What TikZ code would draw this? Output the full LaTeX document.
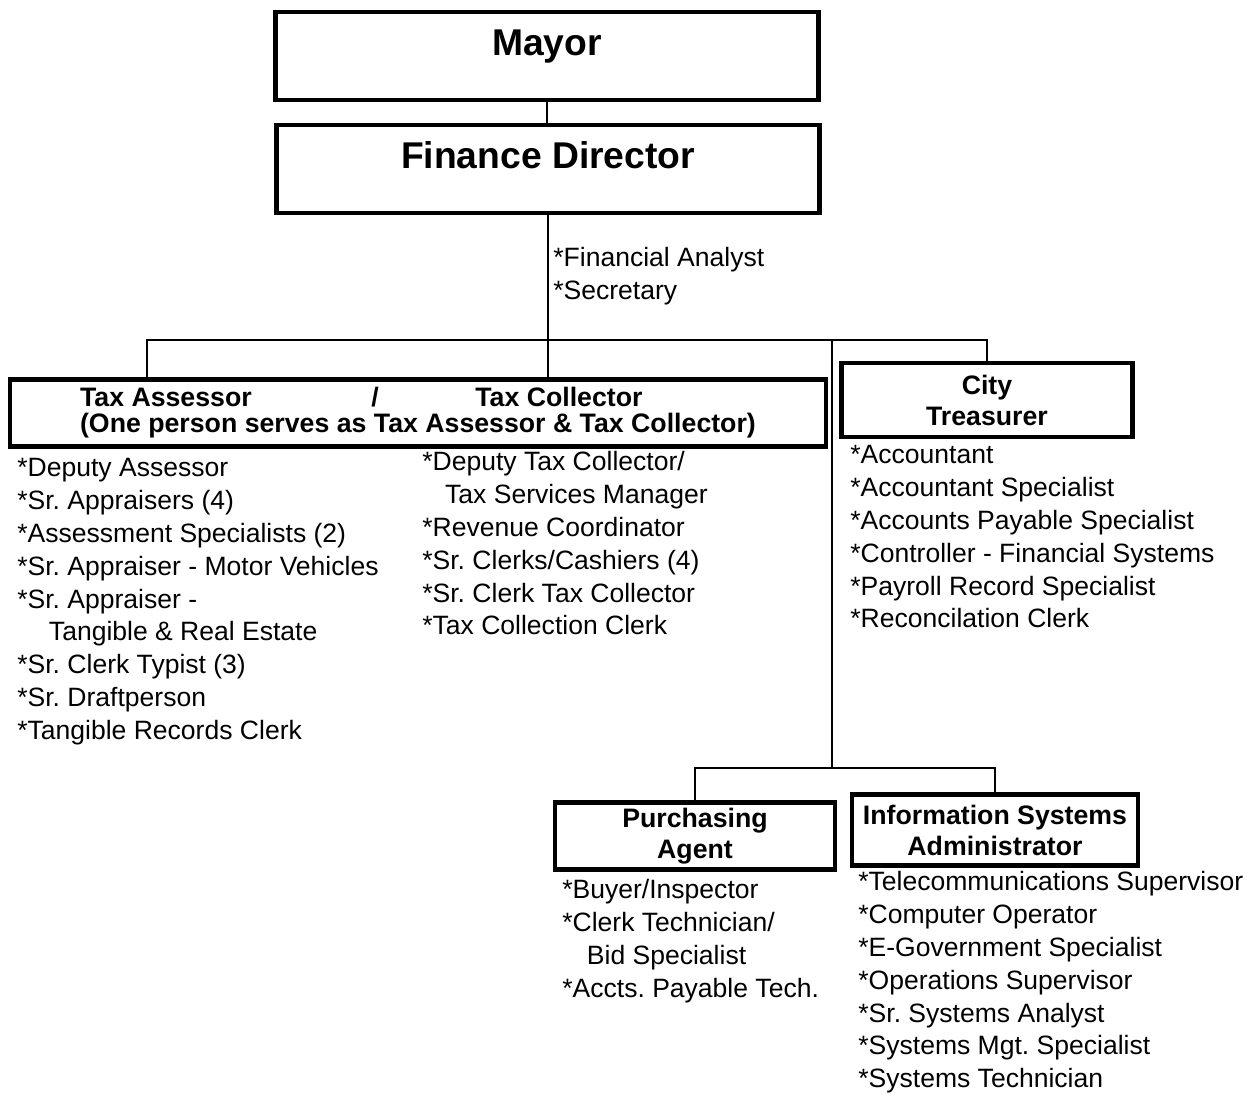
\documentclass[tikz,border=0pt]{standalone}
\usepackage{fontspec}
\setmainfont{Liberation Sans}
\frenchspacing
\begin{document}
\begin{tikzpicture}[x=0.02cm, y=-0.02cm,
        topbox/.style={draw, line width=2.4pt, inner sep=0pt, minimum width=10.86cm, minimum height=1.76cm,
            text height=24.5pt, text depth=25.4pt, font=\bfseries\fontsize{21.2}{25}\selectfont},
        headbox/.style={draw, line width=2.4pt, inner sep=0pt, align=center, font=\bfseries\fontsize{15.2}{17.6}\selectfont},
        duties/.style={anchor=north west, inner sep=0pt, align=left, font=\fontsize{15.1}{18.7}\selectfont},
        link/.style={line width=1.1pt}]
        \useasboundingbox (0,0) rectangle (1254,1095);
        \node[topbox] (mayor) at (547,56) {Mayor};
        \node[topbox] (fin) at (548,169) {Finance Director};
        \node[duties] (finstaff) at (553,247) {*Financial Analyst\\*Secretary};
        \node[headbox, align=left, minimum width=16.32cm, minimum height=1.34cm, font=\bfseries\fontsize{15.2}{14.8}\selectfont] (tax) at (418,413)
            {Tax Assessor\hspace{68pt}/\hspace{55pt}Tax Collector\\(One person serves as Tax Assessor \& Tax Collector)};
        \node[headbox, minimum width=5.82cm, minimum height=1.48cm] (ct) at (987,400) {City\\Treasurer};
        \node[headbox, minimum width=5.6cm, minimum height=1.34cm] (purch) at (695,836) {Purchasing\\Agent};
        \node[headbox, minimum width=5.72cm, minimum height=1.42cm] (isa) at (995,830) {Information Systems\\Administrator};
        \node[duties] (taxstaff) at (17,458)
            {*Deputy Assessor\\*Sr. Appraisers (4)\\*Assessment Specialists (2)\\*Sr. Appraiser - Motor Vehicles\\
             *Sr. Appraiser -\\\hspace*{18pt}Tangible \& Real Estate\\*Sr. Clerk Typist (3)\\*Sr. Draftperson\\*Tangible Records Clerk};
        \node[duties] (colstaff) at (422,451)
            {*Deputy Tax Collector/\\\hspace*{13pt}Tax Services Manager\\*Revenue Coordinator\\*Sr. Clerks/Cashiers (4)\\
             *Sr. Clerk Tax Collector\\*Tax Collection Clerk};
        \node[duties] (ctstaff) at (850,445)
            {*Accountant\\*Accountant Specialist\\*Accounts Payable Specialist\\*Controller - Financial Systems\\
             *Payroll Record Specialist\\*Reconcilation Clerk};
        \node[duties] (purstaff) at (562,879)
            {*Buyer/Inspector\\*Clerk Technician/\\\hspace*{14pt}Bid Specialist\\*Accts. Payable Tech.};
        \node[duties] (isastaff) at (858,871)
            {*Telecommunications Supervisor\\*Computer Operator\\*E-Government Specialist\\*Operations Supervisor\\
             *Sr. Systems Analyst\\*Systems Mgt. Specialist\\*Systems Technician};
        % connectors
        \coordinate (busL) at (147,340);
        \coordinate (drop) at (832,340);
        \coordinate (sub) at (832,768);
        \draw[link] (mayor.south) -- (mayor.south |- fin.north);
        \draw[link] (fin.south) -- (fin.south |- tax.north);
        \draw[link] (tax.north -| busL) -- (busL) -- (busL -| ct.north) -- (ct.north);
        \draw[link] (drop) -- (sub);
        \draw[link] (purch.north) -- (purch.north |- sub) -- (sub -| isa.north) -- (isa.north);
    \end{tikzpicture}
\end{document}
